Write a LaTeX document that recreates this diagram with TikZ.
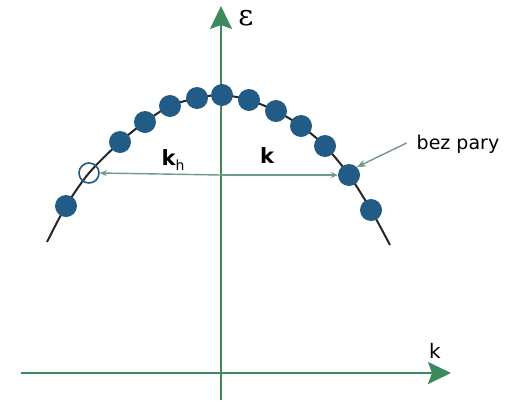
\documentclass[tikz,border=0pt]{standalone}
\usepackage{fontspec}
\setmainfont{DejaVu Sans}
\newfontfamily\epsfont{DejaVu Serif}
\usepackage{tikz}
\usetikzlibrary{arrows.meta,positioning,calc}

\definecolor{dotblue}{HTML}{225B86}
\definecolor{axisgreen}{HTML}{3C8A5E}
\definecolor{linegreen}{HTML}{6E9A88}

\begin{document}
\begin{tikzpicture}[
  x=1pt, y=-1pt,
  dot/.style={circle, fill=dotblue, inner sep=0pt, minimum size=22pt},
  hole/.style={circle, draw=dotblue, line width=1.6pt, inner sep=0pt, minimum size=20pt},
  axis/.style={draw=axisgreen, line width=2.2pt, -{Stealth[length=23pt, width=22pt, inset=4pt]}},
  karrow/.style={draw=linegreen, line width=1.4pt, -{Stealth[length=7pt, width=6pt, fill=black!85]}},
  lbl/.style={inner sep=0pt, font=\fontsize{20}{24}\selectfont}
]
  \useasboundingbox (0,0) rectangle (516,402);

  % axes
  \coordinate (ybot) at (221,400);
  \coordinate (ytop) at (221,6);
  \coordinate (xleft) at (21,373);
  \coordinate (xright) at (451,373);
  \draw[axis] (xleft) -- (xright);
  \draw[axis] (ybot) -- (ytop);
  \node[inner sep=0pt, font=\epsfont\fontsize{29}{31}\selectfont] (eps) at (246,18) {ε};
  \node[lbl] (kaxis) at (435,351) {k};

  % dispersion curve
  \draw[line width=2pt, black!85] plot[smooth] coordinates {
    (47,242) (66,206) (89,173) (120,142) (145,122) (170,106) (197,98)
    (222,95) (249,100) (276,111) (301,126) (325,146) (349,175) (371,210) (390,245)};

  % electrons
  \node[dot] (d1) at (66,206) {};
  \node[hole] (h) at (89,173) {};
  \node[dot] (d2) at (120,142) {};
  \node[dot] (d3) at (145,122) {};
  \node[dot] (d4) at (170,106) {};
  \node[dot] (d5) at (197,98) {};
  \node[dot] (d6) at (222,95) {};
  \node[dot] (d7) at (249,100) {};
  \node[dot] (d8) at (276,111) {};
  \node[dot] (d9) at (301,126) {};
  \node[dot] (d10) at (325,146) {};
  \node[dot] (d11) at (349,175) {};
  \node[dot] (d12) at (371,210) {};

  % wave vectors
  \coordinate (o) at (221,175);
  \draw[karrow] (o) -- (h.east);
  \draw[karrow] (o) -- (d11.west);
  \node[lbl, font=\fontsize{21}{24}\selectfont\bfseries] (kh) at (173,160)
    {k\raisebox{-5pt}{\fontsize{14}{14}\mdseries h}};
  \node[lbl, font=\fontsize{21}{24}\selectfont\bfseries] (k) at (267,156) {k};

  \node[lbl, font=\fontsize{19}{24}\selectfont] (bez) at (458,144) {bez pary};
  \draw[karrow, -{Stealth[length=9pt, width=7pt, fill=black!85]}] ([xshift=-10pt,yshift=1pt]bez.west) -- (d11.north east);
\end{tikzpicture}
\end{document}
